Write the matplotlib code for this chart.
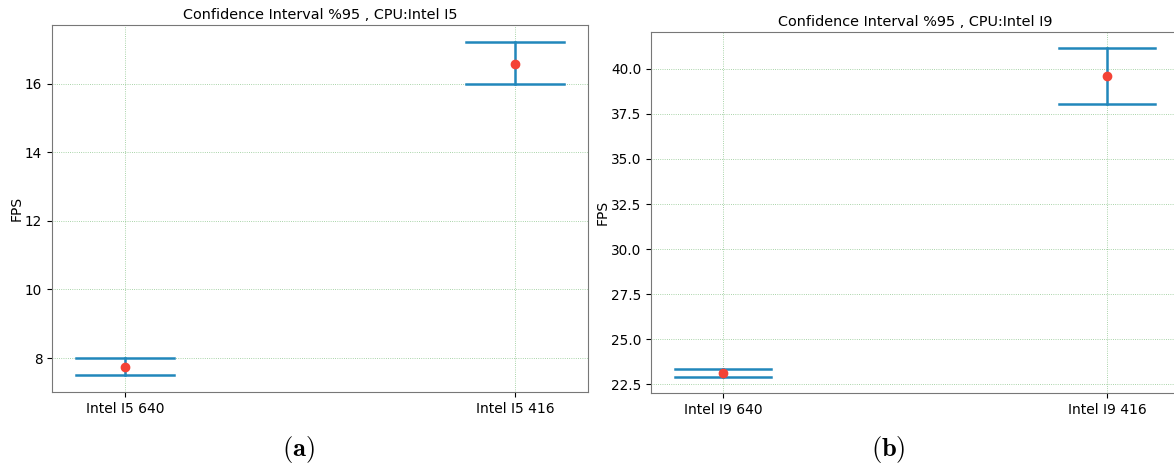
import matplotlib.pyplot as plt

plt.rcParams['mathtext.fontset'] = 'cm'

# interval values (lower bound, mean, upper bound)
i5_labels = ['Intel I5 640', 'Intel I5 416']
i5_low = [7.50, 15.98]
i5_mean = [7.74, 16.58]
i5_high = [7.99, 17.22]

i9_labels = ['Intel I9 640', 'Intel I9 416']
i9_low = [22.92, 38.06]
i9_mean = [23.11, 39.58]
i9_high = [23.33, 41.14]


def plot_ci(ax, x, low, mean, high, color='#2187bb', width=0.25):
    left = x - width / 2
    right = x + width / 2
    ax.plot([x, x], [low, high], color=color, lw=1.8)
    ax.plot([left, right], [high, high], color=color, lw=1.8)
    ax.plot([left, right], [low, low], color=color, lw=1.8)
    ax.plot(x, mean, 'o', color='#f44336', ms=6)


fig = plt.figure(figsize=(11.74, 4.66), dpi=100)
ax1 = fig.add_axes([0.0443, 0.1588, 0.4566, 0.7876])
ax2 = fig.add_axes([0.5545, 0.1567, 0.4497, 0.7747])

for ax, labels, low, mean, high, cpu in [
        (ax1, i5_labels, i5_low, i5_mean, i5_high, 'Intel I5'),
        (ax2, i9_labels, i9_low, i9_mean, i9_high, 'Intel I9')]:
    for i in range(len(labels)):
        plot_ci(ax, i + 1, low[i], mean[i], high[i])
    ax.set_xticks([1, 2])
    ax.set_xticklabels(labels, fontsize=10)
    ax.tick_params(axis='y', labelsize=9.8)
    ax.set_ylabel('FPS', fontsize=10, labelpad=1)
    ax.set_title('Confidence Interval %95 , CPU:' + cpu, fontsize=10.4, pad=4)
    ax.grid(color='g', linestyle=':', lw=0.6, alpha=0.45)
    ax.set_axisbelow(True)
    for s in ax.spines.values():
        s.set_color('#777777')

fig.text(0.254, 0.022, r'$\mathbf{(a)}$', fontsize=19, ha='center')
fig.text(0.757, 0.022, r'$\mathbf{(b)}$', fontsize=19, ha='center')

plt.savefig('out.png', dpi=100)
